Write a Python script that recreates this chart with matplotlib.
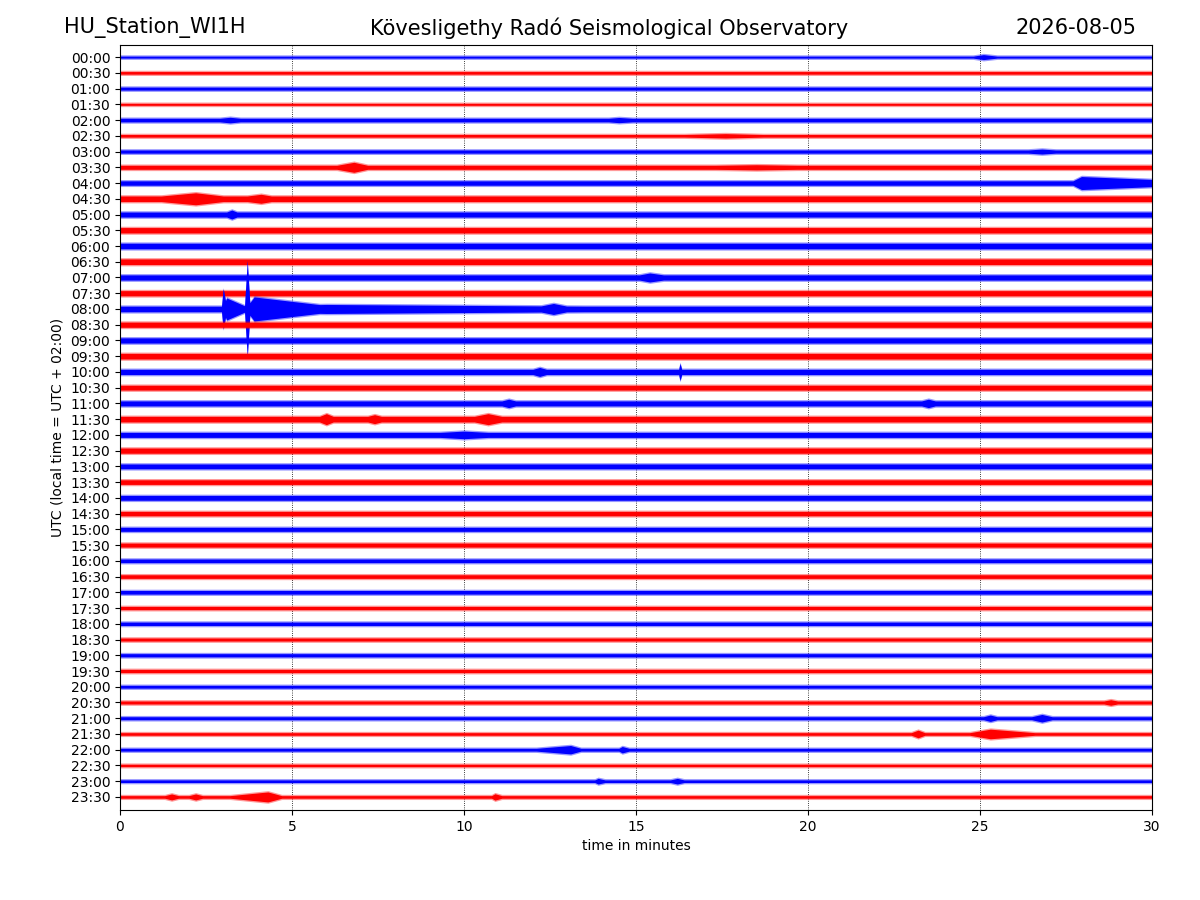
import numpy as np
import matplotlib
matplotlib.use("Agg")
import matplotlib.pyplot as plt

# helicorder: 48 half-hour rows, 30 minutes each
row_labels = ["%02d:%02d" % (h, m) for h in range(24) for m in (0, 30)]

# background noise half-amplitude for each row (counts)
base_amp = [1.0, 1.3, 1.5, 1.0, 1.8, 1.3, 1.6, 2.0, 2.2, 2.8,
            2.5, 2.7, 2.8, 2.8, 2.6, 2.6, 2.8, 2.6, 2.6, 2.8,
            2.6, 2.4, 2.5, 2.8, 2.5, 2.6, 2.4, 2.3, 2.4, 2.2,
            2.0, 2.0, 1.8, 1.8, 1.8, 1.6, 1.7, 1.5, 1.6, 1.6,
            1.4, 1.5, 1.5, 1.3, 1.4, 1.2, 1.3, 1.3]

# bursts: row, start, peak and end minute, peak half-amplitude (counts)
ev_row = [0, 4, 4, 5, 6, 7, 7, 8, 9, 9, 10, 14,
          16, 16, 16, 16, 16, 16,
          20, 20, 22, 22, 23, 23, 23, 24,
          41, 42, 42, 43, 43, 44, 44, 46, 46, 47, 47, 47, 47]
ev_start = [24.8, 2.9, 14.2, 16.4, 26.4, 6.3, 17.3, 27.7, 1.2, 3.7, 3.1, 15.1,
            2.95, 3.0, 3.62, 3.7, 3.5, 12.2,
            12.0, 16.24, 11.1, 23.3, 5.8, 7.2, 10.3, 9.3,
            28.6, 25.1, 26.5, 23.0, 24.7, 12.1, 14.5, 13.8, 16.0, 1.3, 2.0, 3.2, 10.8]
ev_peak = [25.1, 3.2, 14.5, 17.6, 26.8, 6.8, 18.5, 27.95, 2.2, 4.1, 3.25, 15.4,
           3.0, 3.1, 3.70, 3.9, 6.0, 12.6,
           12.2, 16.28, 11.3, 23.5, 6.0, 7.4, 10.7, 10.0,
           28.8, 25.3, 26.8, 23.2, 25.3, 13.1, 14.6, 13.9, 16.2, 1.5, 2.2, 4.3, 10.9]
ev_end = [25.5, 3.5, 14.9, 18.7, 27.2, 7.2, 19.7, 31.0, 3.0, 4.4, 3.4, 15.8,
          3.1, 3.65, 3.78, 6.2, 13.5, 13.0,
          12.4, 16.33, 11.5, 23.7, 6.2, 7.6, 11.1, 10.7,
          29.0, 25.5, 27.1, 23.4, 26.6, 13.4, 14.8, 14.1, 16.4, 1.7, 2.4, 4.7, 11.1]
ev_amp = [2.5, 2.8, 2.6, 2.2, 2.5, 5.0, 2.6, 6.5, 6.0, 4.5, 4.5, 4.5,
          20.0, 11.0, 48.0, 12.0, 4.5, 5.5,
          4.5, 8.5, 4.2, 4.2, 5.5, 4.5, 5.5, 3.8,
          2.8, 3.2, 3.8, 3.8, 4.8, 4.2, 3.2, 2.8, 2.8, 3.0, 3.0, 5.0, 3.2]

colors = ["#0000ff", "#ff0000"]
counts_per_row = 15.7  # vertical scale: counts per row spacing
fuzz = 1.3             # extra counts of faint spread around the dense core

t = np.linspace(0, 30, 6001)

fig = plt.figure(figsize=(12, 9), dpi=100)
ax = fig.add_axes([0.1, 0.1, 0.86, 0.85])

for i in range(len(row_labels)):
    env = np.full_like(t, base_amp[i])
    for r, a, p, b, amp in zip(ev_row, ev_start, ev_peak, ev_end, ev_amp):
        if r == i:
            burst = np.interp(t, [a, p, b], [base_amp[i], amp, base_amp[i]],
                              left=base_amp[i], right=base_amp[i])
            env = np.maximum(env, burst)
    c = colors[i % 2]
    z = 2 + i * 0.01
    outer = (env + fuzz) / counts_per_row
    core = env / counts_per_row
    ax.fill_between(t, i - outer, i + outer, color=c, alpha=0.4, lw=0, zorder=z)
    ax.fill_between(t, i - core, i + core, color=c, lw=0, zorder=z)

ax.set_xlim(0, 30)
ax.set_ylim(len(row_labels) - 0.17, -0.77)
ax.set_xticks(range(0, 31, 5))
ax.set_yticks(range(len(row_labels)))
ax.set_yticklabels(row_labels)
ax.xaxis.grid(True, linestyle=":", color="black", lw=0.6, zorder=1)
ax.set_xlabel("time in minutes")
ax.set_ylabel("UTC (local time = UTC + 02:00)")

fig.text(0.053, 0.969, "HU_Station_WI1H", fontsize=15, ha="left", va="center")
fig.text(0.508, 0.969, "Kövesligethy Radó Seismological Observatory", fontsize=15, ha="center", va="center")
fig.text(0.947, 0.969, "2026-08-05", fontsize=15, ha="right", va="center")

fig.savefig("out.png", dpi=100)
